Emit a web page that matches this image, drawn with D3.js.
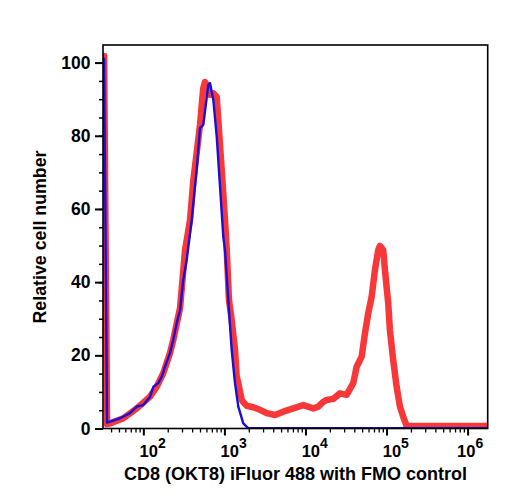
<!DOCTYPE html>
<html>
<head>
<meta charset="utf-8">
<script src="https://cdn.jsdelivr.net/npm/d3@7"></script>
<style>
  html, body { margin: 0; padding: 0; background: #fff; }
  svg { display: block; font-family: "Liberation Sans", Arial, Helvetica, sans-serif; }
</style>
</head>
<body>
<svg id="chart" width="508" height="500"></svg>
<script>
// ---- Data ----
const xTitle = "CD8 (OKT8) iFluor 488 with FMO control";
const yTitle = "Relative cell number";
const yTickValues = [0, 20, 40, 60, 80, 100];
const xTickExponents = [2, 3, 4, 5, 6];

// FMO control (blue)
const blueX = [32.8, 35.7, 51.6, 68.5, 82.9, 100, 121, 133, 153, 169, 185, 213, 234, 258, 284, 311, 343, 395, 455, 500, 549, 633, 664, 730, 804, 883, 969, 1017, 1117, 1230, 1351, 1484, 1710, 1971, 1760000];
const blueY = [101.3, 1.6, 2.8, 4.2, 6.0, 6.4, 8.7, 11.4, 12.4, 14.2, 16.9, 20.6, 24.2, 28.8, 32.4, 40.6, 46.1, 57.0, 70.7, 82.1, 83.0, 93.9, 94.4, 89.8, 79.8, 66.1, 52.4, 48.8, 35.1, 21.5, 12.4, 6.0, 1.4, 0.05, 0.05];

// CD8 stained sample (red)
const redX = [32.8, 35.7, 38.8, 56.7, 82.9, 121, 146, 176, 213, 234, 284, 327, 377, 414, 455, 500, 549, 577, 633, 664, 730, 804, 841, 926, 1017, 1068, 1139, 1230, 1351, 1418, 1484, 1635, 1710, 1884, 2069, 2272, 2748, 3323, 4206, 5325, 7073, 9396, 12480, 14260, 16580, 18260, 22020, 26640, 32210, 38860, 42790, 49320, 54160, 59480, 65530, 71940, 79030, 82900, 91060, 95560, 104960, 110100, 120900, 133200, 146300, 160700, 176900, 1760000];
const redY = [101.8, 1.2, 1.4, 2.8, 5.5, 8.7, 11.4, 15.1, 20.6, 24.2, 33.0, 48.8, 57.0, 67.9, 75.3, 83.0, 93.1, 94.7, 93.1, 91.2, 91.6, 90.6, 84.3, 70.7, 57.0, 48.8, 35.1, 29.7, 21.5, 14.2, 12.4, 7.8, 7.2, 6.2, 6.0, 5.8, 5.1, 4.2, 3.7, 4.6, 5.5, 6.4, 5.5, 5.9, 7.3, 7.8, 8.1, 9.6, 9.2, 12.4, 16.9, 19.6, 26.0, 31.5, 36.0, 43.3, 48.8, 49.9, 48.8, 43.3, 34.2, 26.9, 18.7, 11.4, 6.0, 3.2, 0.7, 0.7];

// ---- Layout ----
const W = 508, H = 500;
const margin = { left: 103, right: 20.3, top: 45, bottom: 71.5 };
const plotW = W - margin.left - margin.right;
const plotH = H - margin.top - margin.bottom;

const svg = d3.select("#chart");
const g = svg.append("g").attr("transform", `translate(${margin.left},${margin.top})`);

const x = d3.scaleLog().domain([31.8, 1.77e6]).range([0, plotW]);
const yMax = 100 * plotH / (428.5 - 62.6);
const y = d3.scaleLinear().domain([0, yMax]).range([plotH, 0]);

// clip
svg.append("defs").append("clipPath").attr("id", "clip")
  .append("rect").attr("x", 0).attr("y", -2).attr("width", plotW).attr("height", plotH + 2);

const line = d3.line().x(d => x(d[0])).y(d => y(d[1]));
const red = d3.zip(redX, redY);
const blue = d3.zip(blueX, blueY);

const curves = g.append("g").attr("clip-path", "url(#clip)");
curves.append("path").datum(red)
  .attr("d", line).attr("fill", "none")
  .attr("stroke", "#f83838").attr("stroke-width", 6.5)
  .attr("stroke-linejoin", "round").attr("stroke-linecap", "round");
curves.append("path").datum(blue)
  .attr("d", line).attr("fill", "none")
  .attr("stroke", "#1a0fd8").attr("stroke-width", 2.4)
  .attr("stroke-linejoin", "round");

// ---- Axes ----
// Y minor ticks
const yMinor = d3.range(0, 101, 5);
g.append("g").call(d3.axisLeft(y).tickValues(yMinor).tickSize(4).tickFormat(""))
  .call(s => s.select(".domain").remove())
  .selectAll("line").attr("stroke", "#000").attr("stroke-width", 1.5);
// Y major
const yAx = g.append("g").call(d3.axisLeft(y).tickValues(yTickValues).tickSize(8).tickPadding(4));
yAx.select(".domain").remove();
yAx.selectAll("line").attr("stroke", "#000").attr("stroke-width", 2);
yAx.selectAll("text").attr("font-size", 17.5).attr("font-weight", "bold")
  .attr("fill", "#000").attr("font-family", "Liberation Sans, Arial, sans-serif")
  .attr("dx", -0.5);

// X minor ticks
const xMinor = [];
for (let e = 1; e <= 6; e++) for (let k = 2; k <= 9; k++) {
  const v = k * Math.pow(10, e);
  if (v >= x.domain()[0] && v <= x.domain()[1]) xMinor.push(v);
}
g.append("g").attr("transform", `translate(0,${plotH})`)
  .call(d3.axisBottom(x).tickValues(xMinor).tickSize(4).tickFormat(""))
  .call(s => s.select(".domain").remove())
  .selectAll("line").attr("stroke", "#000").attr("stroke-width", 1.3);
const xMajorVals = xTickExponents.map(e => Math.pow(10, e));
const xAx = g.append("g").attr("transform", `translate(0,${plotH})`)
  .call(d3.axisBottom(x).tickValues(xMajorVals).tickSize(7).tickFormat(""));
xAx.select(".domain").remove();
xAx.selectAll("line").attr("stroke", "#000").attr("stroke-width", 2);

// X tick labels with superscripts
xTickExponents.forEach((e, i) => {
  const px = x(Math.pow(10, e)) - (i === xTickExponents.length - 1 ? 10.5 : 3.8);
  const t = g.append("text")
    .attr("x", px).attr("y", plotH + 28.5)
    .attr("font-size", 16.5).attr("font-weight", "bold").attr("fill", "#000");
  t.append("tspan").text("10");
  t.append("tspan").attr("font-size", 14).attr("dy", -9).text(String(e));
});

// Frame
g.append("rect").attr("x", 0).attr("y", 0).attr("width", plotW).attr("height", plotH)
  .attr("fill", "none").attr("stroke", "#000").attr("stroke-width", 1.6);

// Titles
svg.append("text")
  .attr("x", 295.5).attr("y", 479.5)
  .attr("text-anchor", "middle").attr("font-size", 18).attr("font-weight", "bold")
  .attr("fill", "#000").text(xTitle);
svg.append("text")
  .attr("transform", `translate(46,237) rotate(-90)`)
  .attr("text-anchor", "middle").attr("font-size", 17.8).attr("font-weight", "bold")
  .attr("fill", "#000").text(yTitle);
</script>
</body>
</html>
